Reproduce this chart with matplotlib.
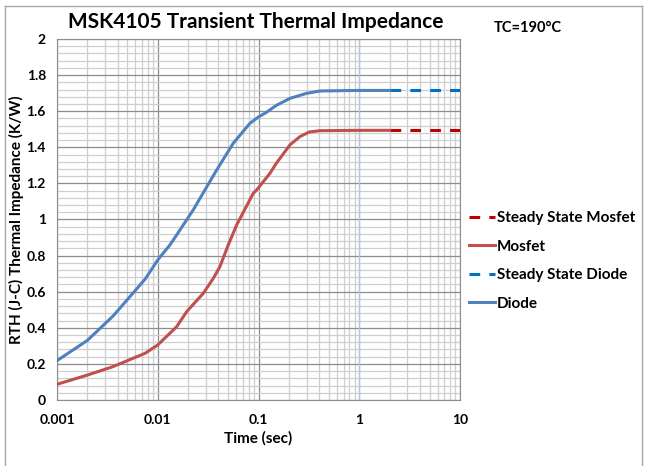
import matplotlib
matplotlib.use('Agg')
import matplotlib.pyplot as plt
from matplotlib.ticker import FixedLocator, LogLocator, MultipleLocator, FuncFormatter
from matplotlib.lines import Line2D

plt.rcParams['font.family'] = ['Lato', 'DejaVu Sans']
plt.rcParams['font.weight'] = 'bold'

# data
diode_t = [0.001, 0.002, 0.0036, 0.0075, 0.01, 0.0132, 0.01425, 0.0225, 0.0384, 0.0561,
           0.0822, 0.1, 0.12, 0.15, 0.205, 0.3, 0.41, 0.7, 1.0, 2.0]
diode_z = [0.218, 0.33, 0.465, 0.67, 0.776, 0.859, 0.886, 1.053, 1.274, 1.422,
           1.533, 1.568, 1.594, 1.632, 1.671, 1.699, 1.712, 1.714, 1.715, 1.715]
mosfet_t = [0.001, 0.002, 0.0036, 0.0075, 0.01, 0.0132, 0.0154, 0.0194, 0.0283, 0.0356,
            0.0414, 0.0501, 0.0607, 0.0887, 0.0957, 0.13, 0.15, 0.205, 0.257, 0.32, 0.41,
            1.0, 2.0]
mosfet_z = [0.087, 0.138, 0.185, 0.259, 0.305, 0.37, 0.406, 0.49, 0.591, 0.674,
            0.739, 0.859, 0.97, 1.145, 1.163, 1.256, 1.311, 1.413, 1.459, 1.485, 1.492,
            1.494, 1.494]
ss_t = [2.0, 10.0]
ss_mosfet = [1.494, 1.494]
ss_diode = [1.715, 1.715]

fig = plt.figure(figsize=(6.54, 4.66), dpi=100)
ax = fig.add_axes([57/654, 66/466, 403/654, 361/466])

ax.plot(ss_t, ss_mosfet, color='#C00000', lw=2.2, dashes=(3.5, 3), label='Steady State Mosfet', zorder=3)
ax.plot(mosfet_t, mosfet_z, color='#C0504D', lw=2.2, label='Mosfet', zorder=3)
ax.plot(ss_t, ss_diode, color='#0070C0', lw=2.2, dashes=(3.5, 3), label='Steady State Diode', zorder=3)
ax.plot(diode_t, diode_z, color='#4F81BD', lw=2.2, label='Diode', zorder=3)

ax.set_xscale('log')
ax.set_xlim(0.001, 10)
ax.set_ylim(0, 2)
ax.xaxis.set_major_locator(FixedLocator([0.001, 0.01, 0.1, 1, 10]))
ax.xaxis.set_minor_locator(LogLocator(base=10, subs=range(2, 10)))
ax.xaxis.set_major_formatter(FuncFormatter(lambda v, p: '%g' % v))
ax.xaxis.set_minor_formatter(FuncFormatter(lambda v, p: ''))
ax.yaxis.set_major_locator(MultipleLocator(0.2))
ax.yaxis.set_minor_locator(MultipleLocator(0.04))
ax.yaxis.set_major_formatter(FuncFormatter(lambda v, p: '%g' % round(v, 2)))

ax.grid(which='major', color='#8C8C8C', lw=0.9)
ax.grid(which='minor', color='#CFCFCF', lw=0.9)
ax.axvline(1, color='#B4C7E7', lw=0.9, zorder=2)
ax.set_axisbelow(True)
ax.tick_params(which='both', length=0, labelsize=10)
ax.tick_params(axis='x', pad=10)
ax.tick_params(axis='y', pad=8)
for s in ax.spines.values():
    s.set_color('#8C8C8C')

ax.set_xlabel('Time (sec)', fontsize=11, fontweight='bold', labelpad=4)
ax.set_ylabel('RTH (J-C) Thermal Impedance (K/W)', fontsize=11, fontweight='bold', labelpad=2)

fig.text(256/654, 1 - 22/466, 'MSK4105 Transient Thermal Impedance', fontsize=15,
         fontweight='bold', ha='center', va='center')
fig.text(494/654, 1 - 28/466, 'TC=190°C', fontsize=10.5, fontweight='bold', ha='left', va='center')

handles, labels = ax.get_legend_handles_labels()
fig.legend(handles, labels, loc='center left', bbox_to_anchor=(463/654, 1 - 261/466),
           frameon=False, fontsize=11, handlelength=1.7, handletextpad=0.1,
           labelspacing=0.95, borderaxespad=0)

# chart-area border
for xs, ys in [([5/654, 5/654], [0, 1 - 6/466]), ([5/654, 642/654], [1 - 6/466, 1 - 6/466]),
               ([642/654, 642/654], [1 - 6/466, 0])]:
    fig.add_artist(Line2D(xs, ys, transform=fig.transFigure, color='#A6A6A6', lw=1))

fig.savefig('out.png', dpi=100)
